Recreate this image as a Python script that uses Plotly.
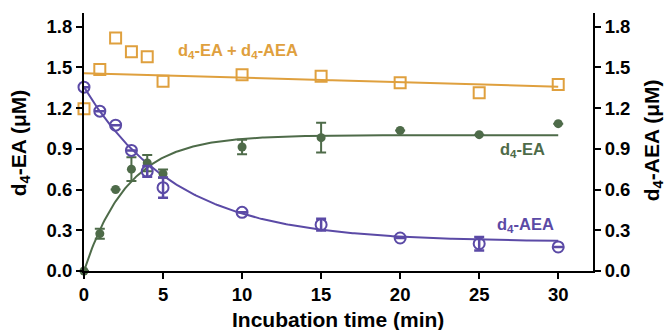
import numpy as np
import plotly.graph_objects as go

# ---- data ----
time = [0, 1, 2, 3, 4, 5, 10, 15, 20, 25, 30]
ea = [0.0, 0.275, 0.60, 0.75, 0.795, 0.717, 0.913, 0.982, 1.035, 1.004, 1.085]
ea_err = [0, 0.037, 0, 0.088, 0.06, 0.03, 0.054, 0.109, 0, 0, 0]
aea = [1.354, 1.177, 1.074, 0.888, 0.734, 0.614, 0.432, 0.341, 0.243, 0.201, 0.177]
aea_err = [0, 0, 0, 0, 0.04, 0.074, 0, 0.043, 0, 0.05, 0]
total = [1.195, 1.484, 1.715, 1.614, 1.578, 1.398, 1.445, 1.435, 1.386, 1.313, 1.374]

# fit parameters
ea_fit = {"A": 1.0, "k": 0.36}
aea_fit = {"y0": 1.354, "plateau": 0.215, "k": 0.17}
total_fit = {"intercept": 1.457, "slope": -0.00333}

ticks_y = [0.0, 0.3, 0.6, 0.9, 1.2, 1.5, 1.8]
ticks_x = [0, 5, 10, 15, 20, 25, 30]

ORANGE = "#DFA03E"
GREEN = "#4E6B49"
PURPLE = "#5B4AA6"
FONT = "Arial, Liberation Sans, sans-serif"

tfit = np.linspace(0, 30, 301)
ea_curve = ea_fit["A"] * (1 - np.exp(-ea_fit["k"] * tfit))
aea_curve = aea_fit["plateau"] + (aea_fit["y0"] - aea_fit["plateau"]) * np.exp(-aea_fit["k"] * tfit)
tot_line = total_fit["intercept"] + total_fit["slope"] * tfit

fig = go.Figure()
fig.add_trace(go.Scatter(x=tfit, y=tot_line, mode="lines", line=dict(color=ORANGE, width=2),
                         showlegend=False, hoverinfo="skip"))
fig.add_trace(go.Scatter(x=tfit, y=ea_curve, mode="lines", line=dict(color=GREEN, width=2),
                         showlegend=False, hoverinfo="skip"))
fig.add_trace(go.Scatter(x=tfit, y=aea_curve, mode="lines", line=dict(color=PURPLE, width=2),
                         showlegend=False, hoverinfo="skip"))

fig.add_trace(go.Scatter(x=time, y=total, mode="markers", cliponaxis=False,
                         marker=dict(symbol="square-open", size=11, color=ORANGE, line=dict(width=2, color=ORANGE)),
                         showlegend=False))
fig.add_trace(go.Scatter(x=time, y=ea, mode="markers", cliponaxis=False,
                         error_y=dict(type="data", array=ea_err, color=GREEN, thickness=2, width=5),
                         marker=dict(symbol="circle", size=9, color=GREEN),
                         showlegend=False))
fig.add_trace(go.Scatter(x=time, y=aea, mode="markers", cliponaxis=False,
                         error_y=dict(type="data", array=aea_err, color=PURPLE, thickness=2.5, width=5),
                         marker=dict(symbol="circle-open", size=11, color=PURPLE, line=dict(width=2, color=PURPLE)),
                         showlegend=False))
# invisible trace to show right axis
fig.add_trace(go.Scatter(x=[0], y=[0], yaxis="y2", mode="markers", marker=dict(opacity=0),
                         showlegend=False, hoverinfo="skip"))

axis_common = dict(showline=True, linecolor="black", linewidth=2, ticks="outside", ticklen=6,
                   tickwidth=2, tickcolor="black", showgrid=False, zeroline=False, automargin=False,
                   tickfont=dict(family=FONT, size=18.5, color="black", weight="bold"))

title_font = dict(family=FONT, size=21, color="black", weight="bold")

fig.update_layout(
    width=665, height=330,
    margin=dict(l=84, r=72, t=13, b=59),
    plot_bgcolor="white", paper_bgcolor="white",
    xaxis=dict(range=[0, 32.2], tickvals=ticks_x, **axis_common),
    yaxis=dict(range=[0, 1.9], tickvals=ticks_y, tickformat=".1f", **axis_common),
    yaxis2=dict(range=[0, 1.9], tickvals=ticks_y, tickformat=".1f", overlaying="y", side="right",
                **axis_common),
    annotations=[
        dict(x=0.499, y=-0.187, xref="paper", yref="paper", text="Incubation time (min)",
             showarrow=False, font=title_font, xanchor="center", yanchor="middle"),
        dict(x=-0.1257, y=0.495, xref="paper", yref="paper", text="d<sub>4</sub>-EA (μM)",
             showarrow=False, font=title_font, textangle=-90, xanchor="center", yanchor="middle"),
        dict(x=1.1179, y=0.507, xref="paper", yref="paper", text="d<sub>4</sub>-AEA (μM)",
             showarrow=False, font=title_font, textangle=-90, xanchor="center", yanchor="middle"),
        dict(x=(238 - 84) / 15.83, y=1.617, xref="x", yref="y", text="d<sub>4</sub>-EA + d<sub>4</sub>-AEA",
             showarrow=False, font=dict(family=FONT, size=16.5, color=ORANGE, weight="bold")),
        dict(x=27.73, y=0.888, xref="x", yref="y", text="d<sub>4</sub>-EA", showarrow=False,
             font=dict(family=FONT, size=16.5, color=GREEN, weight="bold")),
        dict(x=27.9, y=0.336, xref="x", yref="y", text="d<sub>4</sub>-AEA", showarrow=False,
             font=dict(family=FONT, size=16.5, color=PURPLE, weight="bold")),
    ],
)

fig.write_html("out.html", config={"displayModeBar": False},
               post_script="document.body.style.margin='0';document.body.style.overflow='hidden';")
